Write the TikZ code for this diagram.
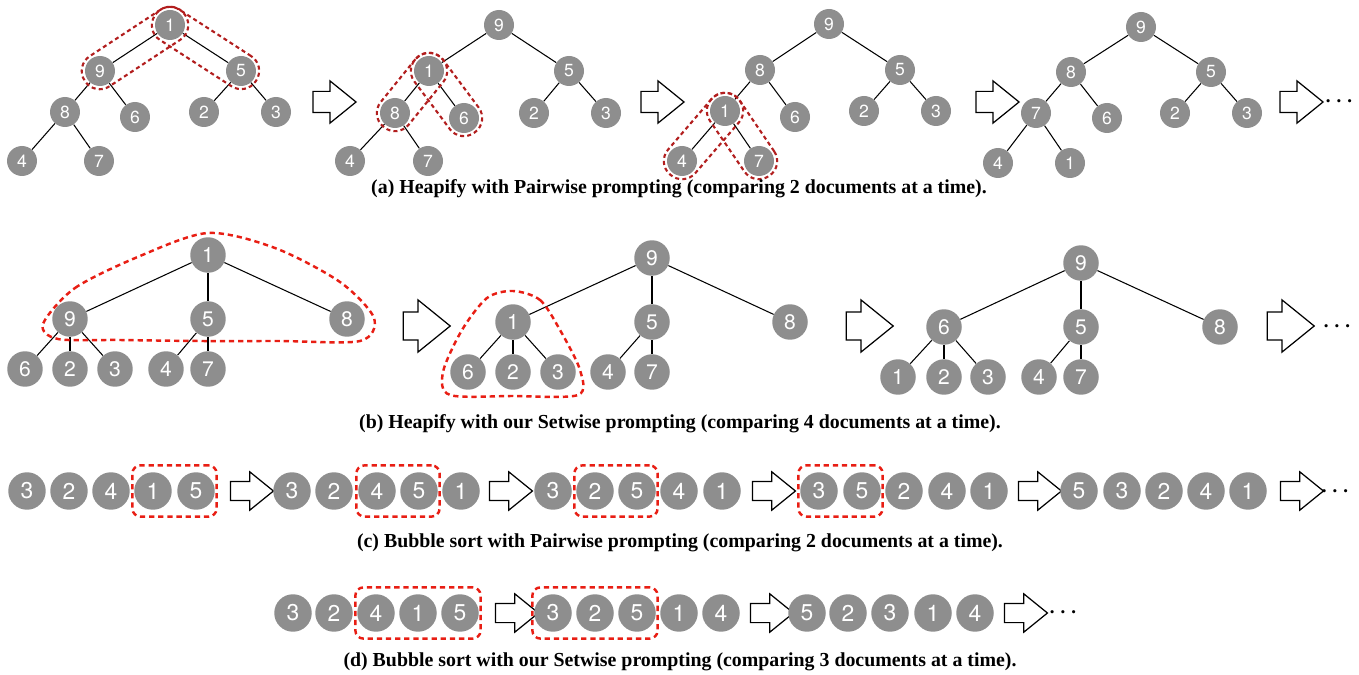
\documentclass[tikz,border=0pt]{standalone}
\usepackage{fontspec}
\setmainfont{Liberation Serif}
\setsansfont{TeX Gyre Heros}
\usepackage{tikz}
\usetikzlibrary{shapes.arrows}
\usetikzlibrary{fit}
\usetikzlibrary{calc}
\usetikzlibrary{positioning}
\definecolor{docgray}{RGB}{142,142,142}
\definecolor{loopred}{RGB}{178,30,30}
\definecolor{boxred}{RGB}{232,30,20}
\tikzset{
    DocA/.style = {circle, fill=docgray, text=white, inner sep=0pt, minimum size=0.6cm, font=\sffamily\fontsize{10}{10}\selectfont},
    DocB/.style = {DocA, minimum size=0.71cm, font=\sffamily\fontsize{12}{12}\selectfont},
    DocC/.style = {DocA, minimum size=0.75cm, font=\sffamily\fontsize{13}{13}\selectfont}
}
\tikzset{
    Edge/.style = {draw=black, line width=0.6pt}
}
\tikzset{
    ArrA/.style = {single arrow, draw=black, fill=white, line width=0.7pt, inner xsep=0pt, inner ysep=0.2cm, single arrow tip angle=78, single arrow head extend=0.21cm, minimum height=0.86cm},
    ArrB/.style = {ArrA, inner ysep=0.27cm, single arrow head extend=0.24cm, minimum height=0.94cm},
    ArrC/.style = {ArrA, inner ysep=0.18cm, single arrow head extend=0.19cm, minimum height=0.86cm},
    Dots/.style = {font=\boldmath\fontsize{12}{12}\selectfont},
    Caption/.style = {font=\bfseries\fontsize{11.3}{12}\selectfont}
}
\tikzset{
    LoopA/.style = {draw=loopred, dash pattern=on 2.3pt off 1.8pt, line width=1.2pt, rounded corners=0.35cm, inner sep=0pt, minimum height=0.72cm},
    LoopB/.style = {draw=boxred, dash pattern=on 3pt off 2.2pt, line width=1.4pt},
    BoxC/.style = {LoopB, rounded corners=0.16cm, inner xsep=0.03cm, inner ysep=0.13cm}
}

\begin{document}
\begin{tikzpicture}[x=0.02cm, y=-0.02cm]
\useasboundingbox (0,0) rectangle (1359,675);

% (a) heapify, pairwise
\node[DocA] at (170,25) (a1-1) {1};
\node[DocA] at (100,71) (a1-9) {9};
\node[DocA] at (241,71) (a1-5) {5};
\node[DocA] at (65,112) (a1-8) {8};
\node[DocA] at (135,117) (a1-6) {6};
\node[DocA] at (204,112) (a1-2) {2};
\node[DocA] at (276,112) (a1-3) {3};
\node[DocA] at (22,161) (a1-4) {4};
\node[DocA] at (99,161) (a1-7) {7};
\path (a1-1) edge [Edge] (a1-9);
\path (a1-1) edge [Edge] (a1-5);
\path (a1-9) edge [Edge] (a1-8);
\path (a1-9) edge [Edge] (a1-6);
\path (a1-5) edge [Edge] (a1-2);
\path (a1-5) edge [Edge] (a1-3);
\path (a1-8) edge [Edge] (a1-4);
\path (a1-8) edge [Edge] (a1-7);
\node[LoopA, rotate=33.3, minimum width=2.40cm] at ($(a1-1)!0.5!(a1-9)$) (a1-l1) {};
\node[LoopA, rotate=-32.9, minimum width=2.41cm] at ($(a1-1)!0.5!(a1-5)$) (a1-l2) {};
\node[ArrA] at (328,102) (a-arr1) {};

\node[DocA] at (499,25) (a2-9) {9};
\node[DocA] at (429,71) (a2-1) {1};
\node[DocA] at (569,71) (a2-5) {5};
\node[DocA] at (395,113) (a2-8) {8};
\node[DocA] at (464,118) (a2-6) {6};
\node[DocA] at (534,113) (a2-2) {2};
\node[DocA] at (606,113) (a2-3) {3};
\node[DocA] at (350,161) (a2-4) {4};
\node[DocA] at (428,161) (a2-7) {7};
\path (a2-9) edge [Edge] (a2-1);
\path (a2-9) edge [Edge] (a2-5);
\path (a2-1) edge [Edge] (a2-8);
\path (a2-1) edge [Edge] (a2-6);
\path (a2-5) edge [Edge] (a2-2);
\path (a2-5) edge [Edge] (a2-3);
\path (a2-8) edge [Edge] (a2-4);
\path (a2-8) edge [Edge] (a2-7);
\node[LoopA, rotate=51, minimum width=1.80cm] at ($(a2-1)!0.5!(a2-8)$) (a2-l1) {};
\node[LoopA, rotate=-53.3, minimum width=1.89cm] at ($(a2-1)!0.5!(a2-6)$) (a2-l2) {};
\node[ArrA] at (656,102) (a-arr2) {};

\node[DocA] at (829,24) (a3-9) {9};
\node[DocA] at (760,70) (a3-8) {8};
\node[DocA] at (900,70) (a3-5) {5};
\node[DocA] at (725,111) (a3-1) {1};
\node[DocA] at (795,117) (a3-6) {6};
\node[DocA] at (864,111) (a3-2) {2};
\node[DocA] at (936,111) (a3-3) {3};
\node[DocA] at (682,161) (a3-4) {4};
\node[DocA] at (759,161) (a3-7) {7};
\path (a3-9) edge [Edge] (a3-8);
\path (a3-9) edge [Edge] (a3-5);
\path (a3-8) edge [Edge] (a3-1);
\path (a3-8) edge [Edge] (a3-6);
\path (a3-5) edge [Edge] (a3-2);
\path (a3-5) edge [Edge] (a3-3);
\path (a3-1) edge [Edge] (a3-4);
\path (a3-1) edge [Edge] (a3-7);
\node[LoopA, rotate=49.3, minimum width=2.04cm] at ($(a3-1)!0.5!(a3-4)$) (a3-l1) {};
\node[LoopA, rotate=-55.8, minimum width=1.93cm] at ($(a3-1)!0.5!(a3-7)$) (a3-l2) {};
\node[ArrA] at (991,102) (a-arr3) {};

\node[DocA] at (1141,27) (a4-9) {9};
\node[DocA] at (1071,72) (a4-8) {8};
\node[DocA] at (1211,72) (a4-5) {5};
\node[DocA] at (1036,113) (a4-7) {7};
\node[DocA] at (1107,118) (a4-6) {6};
\node[DocA] at (1175,113) (a4-2) {2};
\node[DocA] at (1247,113) (a4-3) {3};
\node[DocA] at (998,163) (a4-4) {4};
\node[DocA] at (1070,163) (a4-1) {1};
\path (a4-9) edge [Edge] (a4-8);
\path (a4-9) edge [Edge] (a4-5);
\path (a4-8) edge [Edge] (a4-7);
\path (a4-8) edge [Edge] (a4-6);
\path (a4-5) edge [Edge] (a4-2);
\path (a4-5) edge [Edge] (a4-3);
\path (a4-7) edge [Edge] (a4-4);
\path (a4-7) edge [Edge] (a4-1);
\node[ArrA] at (1295,102) (a-arr4) {};
\node[Dots] at (1339,102) (a-dots) {$\cdots$};
\node[Caption] at (679,189) (a-cap) {(a) Heapify with Pairwise prompting (comparing 2 documents at a time).};

% (b) heapify, setwise
\node[DocB] at (208,255) (b1-1) {1};
\node[DocB] at (70,319) (b1-9) {9};
\node[DocB] at (208,319) (b1-5) {5};
\node[DocB] at (347,319) (b1-8) {8};
\node[DocB] at (25,369) (b1-6) {6};
\node[DocB] at (70,369) (b1-2) {2};
\node[DocB] at (115,369) (b1-3) {3};
\node[DocB] at (166,369) (b1-4) {4};
\node[DocB] at (208,369) (b1-7) {7};
\path (b1-1) edge [Edge] (b1-9);
\path (b1-1) edge [Edge] (b1-5);
\path (b1-1) edge [Edge] (b1-8);
\path (b1-9) edge [Edge] (b1-6);
\path (b1-9) edge [Edge] (b1-2);
\path (b1-9) edge [Edge] (b1-3);
\path (b1-5) edge [Edge] (b1-4);
\path (b1-5) edge [Edge] (b1-7);
\draw[LoopB] plot[smooth cycle] coordinates {(43,324) (75,288) (140,256) (208,233) (275,248) (340,282) (374,318) (360,341) (280,341) (200,341) (120,340) (58,339)};
\node[ArrB] at (418,326) (b-arr1) {};

\node[DocB] at (652,258) (b2-9) {9};
\node[DocB] at (513,322) (b2-1) {1};
\node[DocB] at (652,322) (b2-5) {5};
\node[DocB] at (790,322) (b2-8) {8};
\node[DocB] at (468,372) (b2-6) {6};
\node[DocB] at (513,372) (b2-2) {2};
\node[DocB] at (558,372) (b2-3) {3};
\node[DocB] at (608,372) (b2-4) {4};
\node[DocB] at (652,372) (b2-7) {7};
\path (b2-9) edge [Edge] (b2-1);
\path (b2-9) edge [Edge] (b2-5);
\path (b2-9) edge [Edge] (b2-8);
\path (b2-1) edge [Edge] (b2-6);
\path (b2-1) edge [Edge] (b2-2);
\path (b2-1) edge [Edge] (b2-3);
\path (b2-5) edge [Edge] (b2-4);
\path (b2-5) edge [Edge] (b2-7);
\draw[LoopB] plot[smooth cycle] coordinates {(513,291) (540,300) (560,330) (580,370) (578,395) (513,396) (450,395) (443,372) (462,330) (487,298)};
\node[ArrB] at (861,326) (b-arr2) {};

\node[DocB] at (1081,263) (b3-9) {9};
\node[DocB] at (944,327) (b3-6) {6};
\node[DocB] at (1081,327) (b3-5) {5};
\node[DocB] at (1220,327) (b3-8) {8};
\node[DocB] at (898,377) (b3-1) {1};
\node[DocB] at (944,377) (b3-2) {2};
\node[DocB] at (988,377) (b3-3) {3};
\node[DocB] at (1039,377) (b3-4) {4};
\node[DocB] at (1081,377) (b3-7) {7};
\path (b3-9) edge [Edge] (b3-6);
\path (b3-9) edge [Edge] (b3-5);
\path (b3-9) edge [Edge] (b3-8);
\path (b3-6) edge [Edge] (b3-1);
\path (b3-6) edge [Edge] (b3-2);
\path (b3-6) edge [Edge] (b3-3);
\path (b3-5) edge [Edge] (b3-4);
\path (b3-5) edge [Edge] (b3-7);
\node[ArrB] at (1282,326) (b-arr3) {};
\node[Dots] at (1337,327) (b-dots) {$\cdots$};
\node[Caption] at (680,424) (b-cap) {(b) Heapify with our Setwise prompting (comparing 4 documents at a time).};

% (c) bubble sort, pairwise
\node[DocC] at (27,491) (c1-3) {3};
\node[DocC] at (69,491) (c1-2) {2};
\node[DocC] at (111,491) (c1-4) {4};
\node[DocC] at (153,491) (c1-1) {1};
\node[DocC] at (196,491) (c1-5) {5};
\node[BoxC, fit=(c1-1)(c1-5)] (c1-box) {};
\node[ArrC] at (246,491) (c-arr1) {};
\node[DocC] at (292,491) (c2-3) {3};
\node[DocC] at (334,491) (c2-2) {2};
\node[DocC] at (377,491) (c2-4) {4};
\node[DocC] at (419,491) (c2-5) {5};
\node[DocC] at (461,491) (c2-1) {1};
\node[BoxC, fit=(c2-4)(c2-5)] (c2-box) {};
\node[ArrC] at (505,491) (c-arr2) {};
\node[DocC] at (553,491) (c3-3) {3};
\node[DocC] at (595,491) (c3-2) {2};
\node[DocC] at (637,491) (c3-5) {5};
\node[DocC] at (679,491) (c3-4) {4};
\node[DocC] at (722,491) (c3-1) {1};
\node[BoxC, fit=(c3-2)(c3-5)] (c3-box) {};
\node[ArrC] at (768,491) (c-arr3) {};
\node[DocC] at (819,491) (c4-3) {3};
\node[DocC] at (862,491) (c4-5) {5};
\node[DocC] at (904,491) (c4-2) {2};
\node[DocC] at (947,491) (c4-4) {4};
\node[DocC] at (989,491) (c4-1) {1};
\node[BoxC, fit=(c4-3)(c4-5)] (c4-box) {};
\node[ArrC] at (1034,491) (c-arr4) {};
\node[DocC] at (1079,491) (c5-5) {5};
\node[DocC] at (1122,491) (c5-3) {3};
\node[DocC] at (1164,491) (c5-2) {2};
\node[DocC] at (1206,491) (c5-4) {4};
\node[DocC] at (1248,491) (c5-1) {1};
\node[ArrC] at (1296,491) (c-arr5) {};
\node[Dots] at (1335,492) (c-dots) {$\cdots$};
\node[Caption] at (680,543) (c-cap) {(c) Bubble sort with Pairwise prompting (comparing 2 documents at a time).};

% (d) bubble sort, setwise
\node[DocC] at (293,613) (d1-3) {3};
\node[DocC] at (334,613) (d1-2) {2};
\node[DocC] at (376,613) (d1-4) {4};
\node[DocC] at (418,613) (d1-1) {1};
\node[DocC] at (460,613) (d1-5) {5};
\node[BoxC, fit=(d1-4)(d1-5)] (d1-box) {};
\node[ArrC] at (511,613) (d-arr1) {};
\node[DocC] at (553,613) (d2-3) {3};
\node[DocC] at (595,613) (d2-2) {2};
\node[DocC] at (637,613) (d2-5) {5};
\node[DocC] at (679,613) (d2-1) {1};
\node[DocC] at (721,613) (d2-4) {4};
\node[BoxC, fit=(d2-3)(d2-5)] (d2-box) {};
\node[ArrC] at (766,613) (d-arr2) {};
\node[DocC] at (807,613) (d3-5) {5};
\node[DocC] at (848,613) (d3-2) {2};
\node[DocC] at (890,613) (d3-3) {3};
\node[DocC] at (933,613) (d3-1) {1};
\node[DocC] at (975,613) (d3-4) {4};
\node[ArrC] at (1020,613) (d-arr3) {};
\node[Dots] at (1063,613) (d-dots) {$\cdots$};
\node[Caption] at (680,662) (d-cap) {(d) Bubble sort with our Setwise prompting (comparing 3 documents at a time).};
\end{tikzpicture}
\end{document}
